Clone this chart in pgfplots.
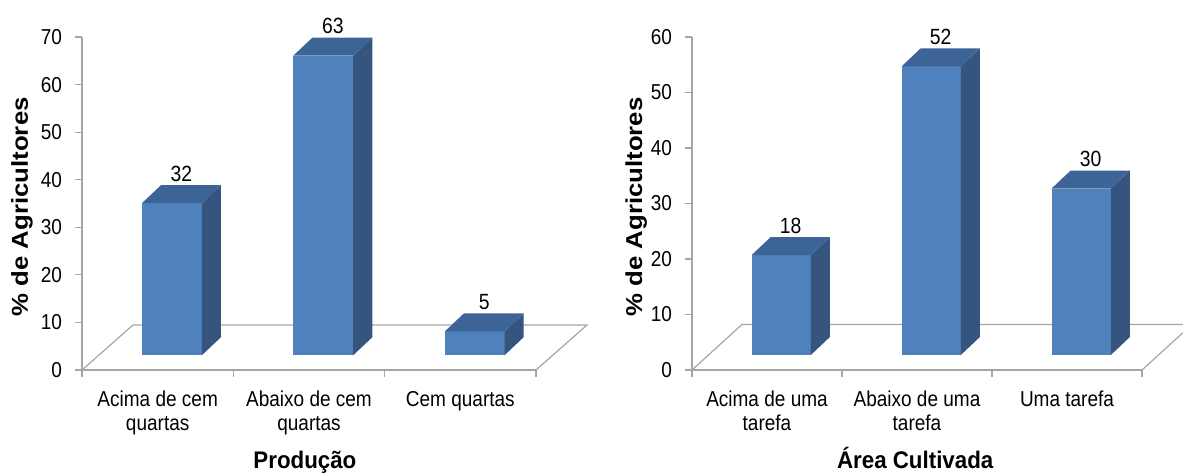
\documentclass[border=0pt]{standalone}
\usepackage{fontspec}
\setmainfont{Liberation Sans}
\newfontfamily\ylfont[FakeStretch=1.12]{Liberation Sans}
\newfontfamily\ttlfont[FakeStretch=0.93]{Liberation Sans}
\newfontfamily\nrfont[FakeStretch=0.88]{Liberation Sans}
\usepackage{pgfplots}
\pgfplotsset{compat=1.18}
\definecolor{barfront}{HTML}{4F81BD}
\definecolor{barside}{HTML}{35557F}
\definecolor{bartop}{HTML}{3D6496}
\definecolor{floorgray}{HTML}{A6A6A6}

% #1 category centre, #2 value, #3 base, #4 depth dx, #5 depth dy
\newcommand\tdbar[5]{%
 \pgfmathsetmacro\xa{#1-0.103}%
 \pgfmathsetmacro\xb{#1+0.292}%
 \pgfmathsetmacro\xc{\xa+#4}%
 \pgfmathsetmacro\xd{\xb+#4}%
 \pgfmathsetmacro\yb{#3}%
 \pgfmathsetmacro\yt{#3+#2}%
 \pgfmathsetmacro\ybb{\yb+#5}%
 \pgfmathsetmacro\ytt{\yt+#5}%
 \pgfmathsetmacro\xm{(\xa+\xd)/2}%
 \edef\tmp{%
  \noexpand\addplot[fill=barfront,draw=none] coordinates {(\xa,\yb) (\xb,\yb) (\xb,\yt) (\xa,\yt)} -- cycle;
  \noexpand\addplot[fill=barside,draw=none] coordinates {(\xb,\yb) (\xd,\ybb) (\xd,\ytt) (\xb,\yt)} -- cycle;
  \noexpand\addplot[fill=bartop,draw=none] coordinates {(\xa,\yt) (\xb,\yt) (\xd,\ytt) (\xc,\ytt)} -- cycle;
  \noexpand\node[anchor=south,inner sep=1.5pt,font=\noexpand\nrfont\noexpand\fontsize{11}{13}\noexpand\selectfont] at (axis cs:\xm,\ytt) {#2};
 }\tmp}

\pgfplotsset{
 chartstyle/.style={
  scale only axis, height=166.5pt,
  xmin=0, xmax=3, ymin=0,
  axis lines=left, axis line style={-,draw=floorgray,line width=0.6pt},
  tick align=outside, major tick length=3.5pt,
  tick style={draw=floorgray,line width=0.6pt},
  xtick={0,1,2,3}, xticklabels={},
  extra x ticks={0.5,1.5,2.5},
  extra x tick style={tick style={draw=none}, xticklabel style={yshift=-3.5pt}},
  tick label style={font=\nrfont\fontsize{10.8}{12}\selectfont, align=center},
  /pgf/number format/assume math mode=true,
  yticklabel style={xshift=-3pt},
  clip=false,
  ylabel={\% de Agricultores},
  xlabel style={font=\ttlfont\bfseries\fontsize{12}{14}\selectfont, anchor=base, yshift=-49pt},
 }
}

\begin{document}
\begin{tikzpicture}
\useasboundingbox (-41pt,-51pt) rectangle (550.5pt,185pt);
\begin{axis}[chartstyle, at={(0pt,0pt)}, anchor=south west,
  width=227pt, ymax=70, ytick={0,10,...,70},
  extra x tick labels={{Acima de cem\\quartas},{Abaixo de cem\\quartas},{Cem quartas}},
  xlabel={Produção},
  xlabel style={at={(axis description cs:0.491,0)}},
  ylabel style={font=\ylfont\bfseries\fontsize{11.5}{13}\selectfont, at={(axis description cs:-0.132,0.49)}, anchor=center},
]
\addplot[draw=floorgray,line width=0.6pt] coordinates {(0,0) (0.337,9.46) (3.337,9.46) (3,0)};
\tdbar{0.5}{32}{3.1}{0.126}{3.78}
\tdbar{1.5}{63}{3.1}{0.126}{3.78}
\tdbar{2.5}{5}{3.1}{0.126}{3.78}
\end{axis}
\begin{axis}[chartstyle, at={(305pt,0pt)}, anchor=south west,
  width=225pt, ymax=60, ytick={0,10,...,60},
  extra x tick labels={{Acima de uma\\tarefa},{Abaixo de uma\\tarefa},{Uma tarefa}},
  xlabel={Área Cultivada},
  xlabel style={at={(axis description cs:0.496,0)}},
  ylabel style={font=\ylfont\bfseries\fontsize{11.5}{13}\selectfont, at={(axis description cs:-0.124,0.49)}, anchor=center},
]
\addplot[draw=floorgray,line width=0.6pt] coordinates {(0,0) (0.333,8.2) (3.333,8.2) (3,0)};
\tdbar{0.5}{18}{2.7}{0.127}{3.24}
\tdbar{1.5}{52}{2.7}{0.127}{3.24}
\tdbar{2.5}{30}{2.7}{0.127}{3.24}
\end{axis}
\end{tikzpicture}
\end{document}
